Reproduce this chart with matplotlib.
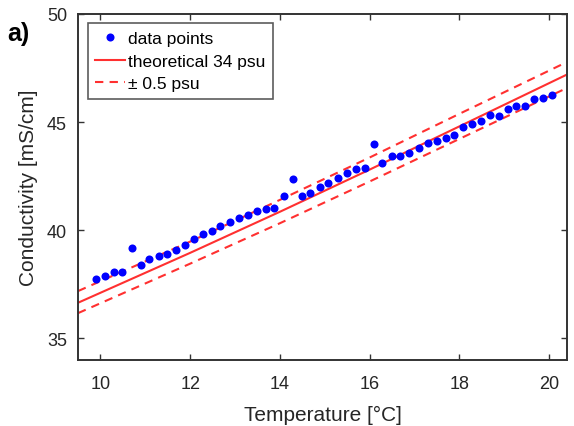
import matplotlib
matplotlib.use("Agg")
import matplotlib.pyplot as plt

plt.rcParams['font.family'] = ['Liberation Sans', 'DejaVu Sans']

# measured data points
temp = [9.89, 10.10, 10.30, 10.49, 10.70, 10.90, 11.08, 11.30, 11.49, 11.68,
        11.88, 12.08, 12.28, 12.48, 12.67, 12.88, 13.08, 13.28, 13.48, 13.69,
        13.87, 14.08, 14.28, 14.49, 14.68, 14.89, 15.08, 15.29, 15.49, 15.69,
        15.89, 16.09, 16.28, 16.49, 16.68, 16.88, 17.09, 17.29, 17.49, 17.69,
        17.89, 18.09, 18.29, 18.49, 18.68, 18.89, 19.08, 19.27, 19.47, 19.67,
        19.87, 20.07]
cond = [37.75, 37.89, 38.05, 38.05, 39.15, 38.39, 38.67, 38.82, 38.91, 39.07,
        39.30, 39.60, 39.80, 39.98, 40.18, 40.37, 40.54, 40.69, 40.88, 40.96,
        41.00, 41.59, 42.38, 41.57, 41.70, 42.01, 42.20, 42.43, 42.64, 42.84,
        42.89, 44.00, 43.12, 43.43, 43.43, 43.58, 43.78, 44.02, 44.11, 44.25,
        44.42, 44.79, 44.93, 45.05, 45.32, 45.28, 45.59, 45.75, 45.75, 46.06,
        46.10, 46.24]

# theoretical curve (34 psu) and +/- 0.5 psu bounds
theo_T = [9.5, 12.0, 14.0, 16.0, 18.0, 20.4]
theo_C = [36.64, 38.95, 40.85, 42.80, 44.80, 47.20]
upper_C = [37.18, 39.47, 41.40, 43.36, 45.38, 47.78]
lower_C = [36.16, 38.45, 40.32, 42.25, 44.22, 46.58]

xticks = [10, 12, 14, 16, 18, 20]
yticks = [35, 40, 45, 50]

fig = plt.figure(figsize=(5.74, 4.27), dpi=100)
ax = fig.add_axes([0.136, 0.155, 0.852, 0.810])

red = '#ff3030'
ax.plot(temp, cond, 'o', color='#0000ff', markersize=5.8, markeredgewidth=0,
        label='data points', zorder=3)
ax.plot(theo_T, theo_C, '-', color=red, lw=1.5, label='theoretical 34 psu')
ax.plot(theo_T, upper_C, '--', color=red, lw=1.5, dashes=(4, 3),
        label='\u00b1 0.5 psu')
ax.plot(theo_T, lower_C, '--', color=red, lw=1.5, dashes=(4, 3))

ax.set_xlim(9.5, 20.4)
ax.set_ylim(34, 50)
ax.set_xticks(xticks)
ax.set_yticks(yticks)

dark = '#333333'
for s in ax.spines.values():
    s.set_color(dark)
    s.set_linewidth(1.4)
ax.tick_params(direction='in', top=True, right=True, length=4, width=1,
               colors=dark, labelsize=13, labelcolor='#262626')
ax.tick_params(axis='x', pad=11)
ax.tick_params(axis='y', pad=8)

ax.set_xlabel('Temperature [\u00b0C]', fontsize=15, color='#262626', labelpad=9)
ax.set_ylabel('Conductivity [mS/cm]', fontsize=15, color='#262626', labelpad=6)

leg = ax.legend(loc='upper left', fontsize=12.5, frameon=True, fancybox=False,
                borderaxespad=0.55, handlelength=1.7, handletextpad=0.15,
                borderpad=0.45, labelspacing=0.42)
leg.get_frame().set_edgecolor(dark)
leg.get_frame().set_linewidth(1.2)

fig.text(0.012, 0.905, 'a)', fontsize=18, fontweight='bold', color='black')

fig.savefig('out.png', dpi=100)
